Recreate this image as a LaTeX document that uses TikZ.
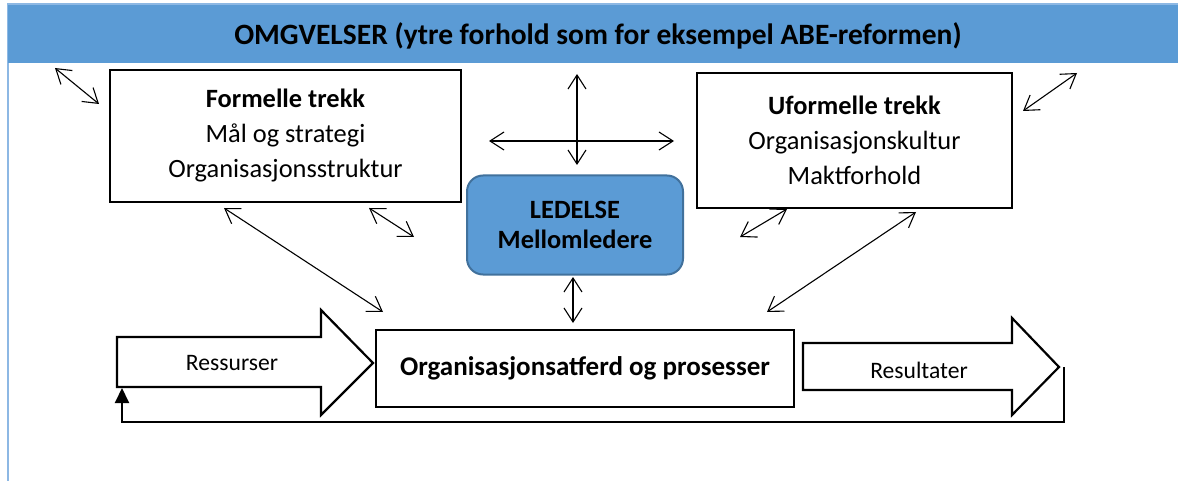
\documentclass[tikz,border=0pt]{standalone}
\usepackage{fontspec}
\setmainfont{Carlito}
\usetikzlibrary{arrows.meta}
\definecolor{barblue}{HTML}{5B9BD5}
\definecolor{ledborder}{HTML}{41719C}
\definecolor{frameblue}{HTML}{8DB8E4}
\begin{document}
\begin{tikzpicture}[x=1pt,y=-1pt,
  box/.style={draw, line width=2.2pt, fill=white, inner sep=0pt, align=center},
  dbl/.style={line width=1.1pt, {Straight Barb[length=14pt,width=18pt]}-{Straight Barb[length=14pt,width=18pt]}},
  blockarrow/.style={draw, line width=2.2pt, fill=white, line join=miter},
  lbl/.style={inner sep=0pt, font=\fontsize{23.6pt}{28pt}\selectfont},
  midfont/.style={font=\fontsize{26.4pt}{35pt}\selectfont}
]
\useasboundingbox (0,0) rectangle (1178,481);
% frame and top bar
\draw[frameblue, line width=2pt] (8,483) -- (8,4) -- (1180,4);
\fill[barblue] (8,5) rectangle (1178,63);
\node[font=\fontsize{29.5pt}{34pt}\selectfont\bfseries, inner sep=0pt] (title) at (598,36) {OMGVELSER (ytre forhold som for eksempel ABE-reformen)};

% boxes
\node[box, midfont, minimum width=351pt, minimum height=132pt] (formal) at (285.5,136) {\textbf{Formelle trekk}\\Mål og strategi\\Organisasjonsstruktur};
\node[box, midfont, minimum width=315pt, minimum height=135pt] (informal) at (854.5,140.5) {\textbf{Uformelle trekk}\\Organisasjonskultur\\Maktforhold};
\node[draw=ledborder, fill=barblue, line width=2pt, rounded corners=16pt, minimum width=216pt, minimum height=99pt, align=center, inner sep=0pt, font=\fontsize{26.4pt}{30pt}\selectfont\bfseries] (led) at (575,225) {LEDELSE\\Mellomledere};
\node[box, minimum width=418pt, minimum height=77pt, font=\fontsize{27pt}{32pt}\selectfont\bfseries] (org) at (585,368.5) {Organisasjonsatferd og prosesser};

% block arrows
\draw[blockarrow] (117,337) -- (321,337) -- (321,310) -- (373,363) -- (321,415) -- (321,387) -- (117,387) -- cycle;
\node[lbl] (res) at (232,363) {Ressurser};
\draw[blockarrow] (803,343) -- (1012,343) -- (1012,318) -- (1059,367) -- (1012,415) -- (1012,390) -- (803,390) -- cycle;
\node[lbl] (resul) at (919,370) {Resultater};

% feedback loop
\coordinate (fbA) at (1064,367);
\coordinate (fbB) at (122,388);
\draw[line width=2pt, -{Triangle[length=15pt,width=14pt]}] (fbA) -- ++(0,55) -| (fbB);

% double arrows
\coordinate (a1) at (55,68);   \coordinate (b1) at (99,104);
\coordinate (a2) at (577,74);  \coordinate (b2) at (577,165);
\coordinate (a3) at (489,141); \coordinate (b3) at (674,141);
\coordinate (a4) at (1077,73); \coordinate (b4) at (1023,111);
\coordinate (a5) at (224,208); \coordinate (b5) at (383,312);
\coordinate (a6) at (369,208); \coordinate (b6) at (414,237);
\coordinate (a7) at (787,209); \coordinate (b7) at (740,237);
\coordinate (a8) at (916,212); \coordinate (b8) at (767,312);
\coordinate (a9) at (573,277); \coordinate (b9) at (573,323);
\foreach \i in {1,...,9} { \draw[dbl] (a\i) -- (b\i); }
\end{tikzpicture}
\end{document}
